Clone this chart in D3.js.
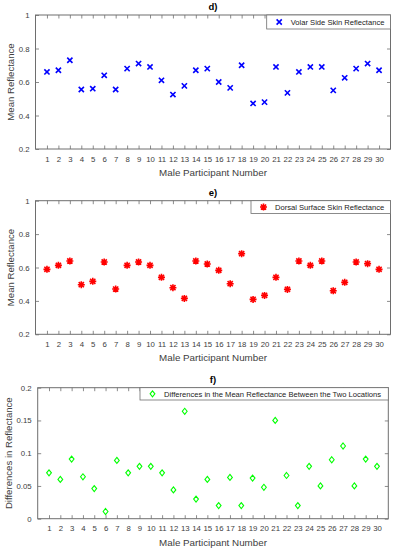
<!DOCTYPE html>
<html>
<head>
<meta charset="utf-8">
<script src="https://cdn.jsdelivr.net/npm/d3@7"></script>
<style>
  body { margin: 0; background: #fff; }
  svg { display: block; font-family: Arial, "Liberation Sans", sans-serif; }
</style>
</head>
<body>
<svg width="395" height="550"></svg>
<script>
// Participant numbers on the x axis
const participants = d3.range(1, 31)

// Panel d) - volar side reflectance
const volarValues = [0.66, 0.67, 0.73, 0.555, 0.56, 0.64, 0.555, 0.68, 0.71, 0.69,
  0.61, 0.525, 0.577, 0.67, 0.68, 0.60, 0.565, 0.70, 0.472, 0.48,
  0.69, 0.535, 0.66, 0.69, 0.69, 0.55, 0.625, 0.68, 0.71, 0.67]

// Panel e) - dorsal surface reflectance
const dorsalValues = [0.589, 0.613, 0.639, 0.497, 0.517, 0.633, 0.471, 0.613, 0.633, 0.613,
  0.541, 0.479, 0.415, 0.639, 0.621, 0.583, 0.503, 0.683, 0.409, 0.433,
  0.541, 0.469, 0.639, 0.613, 0.639, 0.461, 0.511, 0.633, 0.623, 0.589]

// Panel f) - differences between the two locations
const diffValues = [0.070, 0.060, 0.091, 0.064, 0.046, 0.011, 0.089, 0.070, 0.080, 0.080,
  0.070, 0.044, 0.164, 0.030, 0.060, 0.020, 0.063, 0.020, 0.062, 0.048,
  0.150, 0.066, 0.020, 0.080, 0.050, 0.090, 0.111, 0.050, 0.091, 0.080]

const reflectanceTicks = [0.2, 0.4, 0.6, 0.8, 1]
const diffTicks = [0, 0.05, 0.1, 0.15, 0.2]

const svg = d3.select('svg')
const axisColor = '#6e6e6e'
const textColor = '#404040'

// Marker shapes (MATLAB style), drawn around (0,0)
const markers = {
  x: (g, color) => g.append('path')
    .attr('d', 'M-2.6,-2.6L2.6,2.6M-2.6,2.6L2.6,-2.6')
    .attr('stroke', color).attr('stroke-width', 1.6).attr('fill', 'none'),
  star: (g, color) => g.append('path')
    .attr('d', 'M-2.6,-2.6L2.6,2.6M-2.6,2.6L2.6,-2.6M-3.5,0L3.5,0M0,-3.5L0,3.5')
    .attr('stroke', color).attr('stroke-width', 1.6).attr('fill', 'none'),
  diamond: (g, color) => g.append('path')
    .attr('d', 'M0,-3L2.4,0L0,3L-2.4,0Z')
    .attr('stroke', color).attr('stroke-width', 1.1).attr('fill', 'none'),
}

function drawPanel(p) {
  const x = d3.scaleLinear().domain([0, 31]).range([p.left, p.right])
  const y = d3.scaleLinear().domain(p.yDomain).range([p.bottom, p.top])
  const g = svg.append('g')

  // box
  g.append('rect')
    .attr('x', p.left).attr('y', p.top)
    .attr('width', p.right - p.left).attr('height', p.bottom - p.top)
    .attr('fill', '#fff').attr('stroke', axisColor).attr('stroke-width', 1)

  // inward ticks on all four sides
  const tl = 3.5
  const xAxisB = d3.axisBottom(x).tickValues(participants).tickSize(-tl).tickPadding(7).tickFormat(d3.format('d'))
  const xAxisT = d3.axisTop(x).tickValues(participants).tickSize(-tl).tickFormat('')
  const yAxisL = d3.axisLeft(y).tickValues(p.yTicks).tickSize(-tl).tickPadding(6).tickFormat(p.fmt)
  const yAxisR = d3.axisRight(y).tickValues(p.yTicks).tickSize(-tl).tickFormat('')

  const axes = [
    [xAxisB, `translate(0,${p.bottom})`],
    [xAxisT, `translate(0,${p.top})`],
    [yAxisL, `translate(${p.left},0)`],
    [yAxisR, `translate(${p.right},0)`],
  ]
  axes.forEach(([ax, tr]) => {
    const a = g.append('g').attr('transform', tr).call(ax)
    a.select('.domain').remove()
    a.selectAll('line').attr('stroke', axisColor).attr('stroke-width', 0.8)
    a.selectAll('text').attr('fill', textColor).attr('font-size', 7.8)
      .attr('font-family', 'Arial, "Liberation Sans", sans-serif')
  })

  // points
  participants.forEach((n, i) => {
    const m = g.append('g').attr('transform', `translate(${x(n)},${y(p.values[i])})`)
    markers[p.marker](m, p.color)
  })

  // legend
  const lg = g.append('g')
  lg.append('rect')
    .attr('x', p.legendX).attr('y', p.top)
    .attr('width', p.right - p.legendX).attr('height', p.legendH)
    .attr('fill', '#fff').attr('stroke', axisColor).attr('stroke-width', 0.8)
  const lm = lg.append('g').attr('transform', `translate(${p.legendX + 12.5},${p.top + p.legendH / 2})`)
  markers[p.marker](lm, p.color)
  lg.append('text')
    .attr('x', p.legendX + 24).attr('y', p.top + p.legendH / 2 + 2.7)
    .attr('font-size', 7.6).attr('fill', '#222')
    .text(p.legend)

  // title
  g.append('text')
    .attr('x', (p.left + p.right) / 2).attr('y', p.top - 5)
    .attr('text-anchor', 'middle').attr('font-size', 9.5).attr('font-weight', 'bold')
    .attr('fill', '#000').text(p.title)

  // axis labels
  g.append('text')
    .attr('x', (p.left + p.right) / 2).attr('y', p.bottom + 27)
    .attr('text-anchor', 'middle').attr('font-size', 9.8).attr('fill', textColor)
    .text('Male Participant Number')
  g.append('text')
    .attr('transform', `translate(${p.ylabelX},${(p.top + p.bottom) / 2}) rotate(-90)`)
    .attr('text-anchor', 'middle').attr('font-size', 9.6).attr('fill', textColor)
    .text(p.ylabel)
}

drawPanel({
  title: 'd)', values: volarValues, marker: 'x', color: '#0000ff',
  legend: 'Volar Side Skin Reflectance',
  left: 35.5, right: 390.5, top: 15, bottom: 149,
  yDomain: [0.2, 1], yTicks: reflectanceTicks, fmt: d3.format('~g'),
  legendX: 266.7, legendH: 14, ylabel: 'Mean Reflectance', ylabelX: 13.5,
})

drawPanel({
  title: 'e)', values: dorsalValues, marker: 'star', color: '#ff0000',
  legend: 'Dorsal Surface Skin Reflectance',
  left: 35.5, right: 390.5, top: 200.7, bottom: 334.3,
  yDomain: [0.2, 1], yTicks: reflectanceTicks, fmt: d3.format('~g'),
  legendX: 251, legendH: 12.7, ylabel: 'Mean Reflectance', ylabelX: 13.5,
})

drawPanel({
  title: 'f)', values: diffValues, marker: 'diamond', color: '#00ff00',
  legend: 'Differences in the Mean Reflectance Between the Two Locations',
  left: 37.7, right: 388.3, top: 387.7, bottom: 518.7,
  yDomain: [0, 0.2], yTicks: diffTicks, fmt: d3.format('~g'),
  legendX: 140, legendH: 12.3, ylabel: 'Differences in Reflectance', ylabelX: 12,
})
</script>
</body>
</html>
